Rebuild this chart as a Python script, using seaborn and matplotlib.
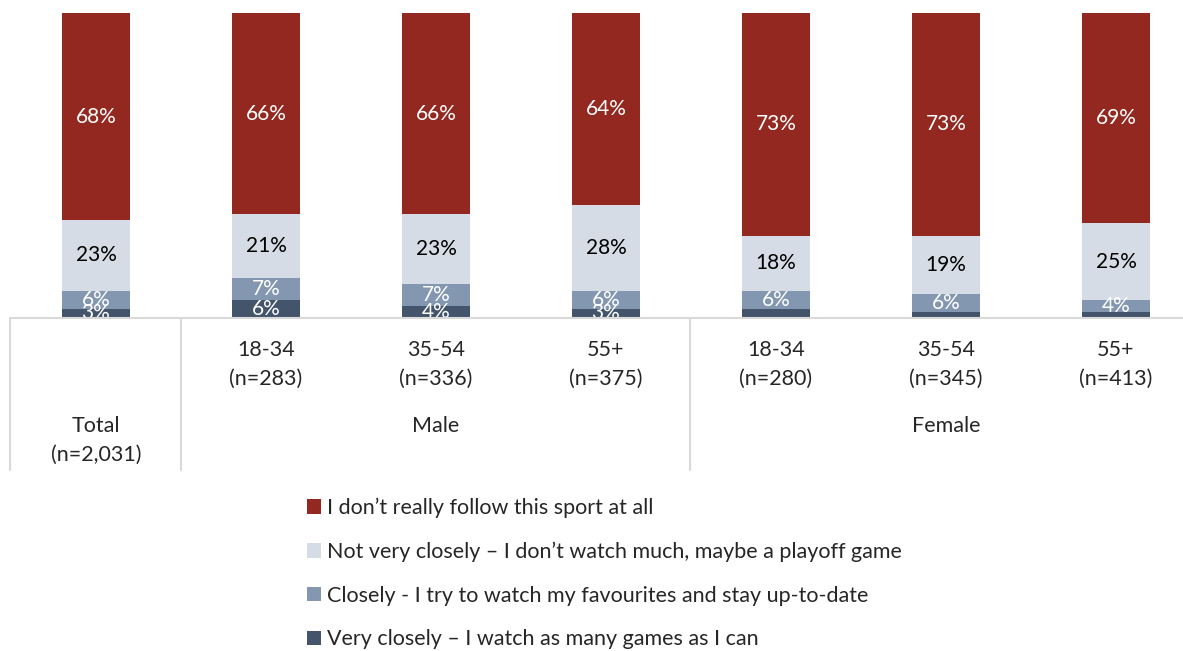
import matplotlib
matplotlib.use("Agg")
import matplotlib.pyplot as plt
import matplotlib.transforms as mtransforms
from matplotlib.lines import Line2D
import pandas as pd
import seaborn as sns

# --- Data ---
groups = ["Total", "Male 18-34", "Male 35-54", "Male 55+",
          "Female 18-34", "Female 35-54", "Female 55+"]
tick_top = ["", "18-34", "35-54", "55+", "18-34", "35-54", "55+"]
tick_n = ["", "(n=283)", "(n=336)", "(n=375)", "(n=280)", "(n=345)", "(n=413)"]

very_closely = [3, 6, 4, 3, 3, 2, 2]
closely = [6, 7, 7, 6, 6, 6, 4]
not_very = [23, 21, 23, 28, 18, 19, 25]
not_at_all = [68, 66, 66, 64, 73, 73, 69]

series_names = [
    "Very closely \u2013 I watch as many games as I can",
    "Closely - I try to watch my favourites and stay up-to-date",
    "Not very closely \u2013 I don\u2019t watch much, maybe a playoff game",
    "I don\u2019t really follow this sport at all",
]
colors = ["#44546A", "#8497B0", "#D6DCE5", "#922820"]
text_colors = ["white", "white", "black", "white"]

df = pd.DataFrame({
    "group": groups,
    series_names[0]: very_closely,
    series_names[1]: closely,
    series_names[2]: not_very,
    series_names[3]: not_at_all,
})

# --- Figure ---
sns.set_style("white")
plt.rcParams["font.family"] = ["Lato", "DejaVu Sans"]
W, H = 1183, 651
FS = 15.5
fig = plt.figure(figsize=(W / 100, H / 100), dpi=100)
ax = fig.add_axes([11 / W, 1 - 318 / H, (W - 11) / W, (318 - 13) / H])

bottom = [0] * len(groups)
for name, col, tcol in zip(series_names, colors, text_colors):
    sns.barplot(data=df, x="group", y=name, order=groups, color=col,
                width=0.4, bottom=bottom, ax=ax, label=name,
                linewidth=0, saturation=1)
    cont = ax.containers[-1]
    vals = df[name].tolist()
    labels = [f"{v}%" for v in vals]
    if name == series_names[0]:
        # female "very closely" segments carry no label in the original
        labels = [l if i < 4 else "" for i, l in enumerate(labels)]
    texts = ax.bar_label(cont, labels=labels, label_type="center",
                         color=tcol, fontsize=15)
    for t in texts:
        t.set_clip_on(True)
    bottom = [b + v for b, v in zip(bottom, vals)]

ax.set_ylim(0, 100)
ax.set_xlim(-0.5, (W - 11) / 170 - 0.5)
ax.set_xticks([])
ax.set_yticks([])
ax.set_xlabel("")
ax.set_ylabel("")
sns.despine(ax=ax, left=True, top=True, right=True, bottom=True)

# --- Category table below the bars ---
grid_col = "#D9D9D9"
fig.add_artist(Line2D([10 / W, 1], [1 - 318 / H] * 2, color=grid_col, lw=1.5))
for xp in [10, 181, 690]:
    fig.add_artist(Line2D([xp / W] * 2, [1 - 318 / H, 1 - 470 / H],
                          color=grid_col, lw=1.5))

trans = mtransforms.blended_transform_factory(ax.transData, fig.transFigure)
for i in range(len(groups)):
    ax.text(i, 1 - 350 / H, tick_top[i], transform=trans, ha="center",
            va="center", fontsize=FS)
    ax.text(i, 1 - 379 / H, tick_n[i], transform=trans, ha="center",
            va="center", fontsize=FS)
ax.text(0, 1 - 426 / H, "Total", transform=trans, ha="center", va="center", fontsize=FS)
ax.text(0, 1 - 455 / H, "(n=2,031)", transform=trans, ha="center", va="center", fontsize=FS)
ax.text(2, 1 - 426 / H, "Male", transform=trans, ha="center", va="center", fontsize=FS)
ax.text(5, 1 - 426 / H, "Female", transform=trans, ha="center", va="center", fontsize=FS)

# --- Legend ---
handles, labs = ax.get_legend_handles_labels()
fig.legend(handles[::-1], labs[::-1], loc="upper left",
           bbox_to_anchor=(298 / W, 1 - 489 / H), frameon=False,
           fontsize=FS, handlelength=0.65, handleheight=0.65,
           handletextpad=0.3, labelspacing=1.1, borderaxespad=0)
if ax.get_legend() is not None:
    ax.get_legend().remove()

fig.savefig("out.png", dpi=100)
